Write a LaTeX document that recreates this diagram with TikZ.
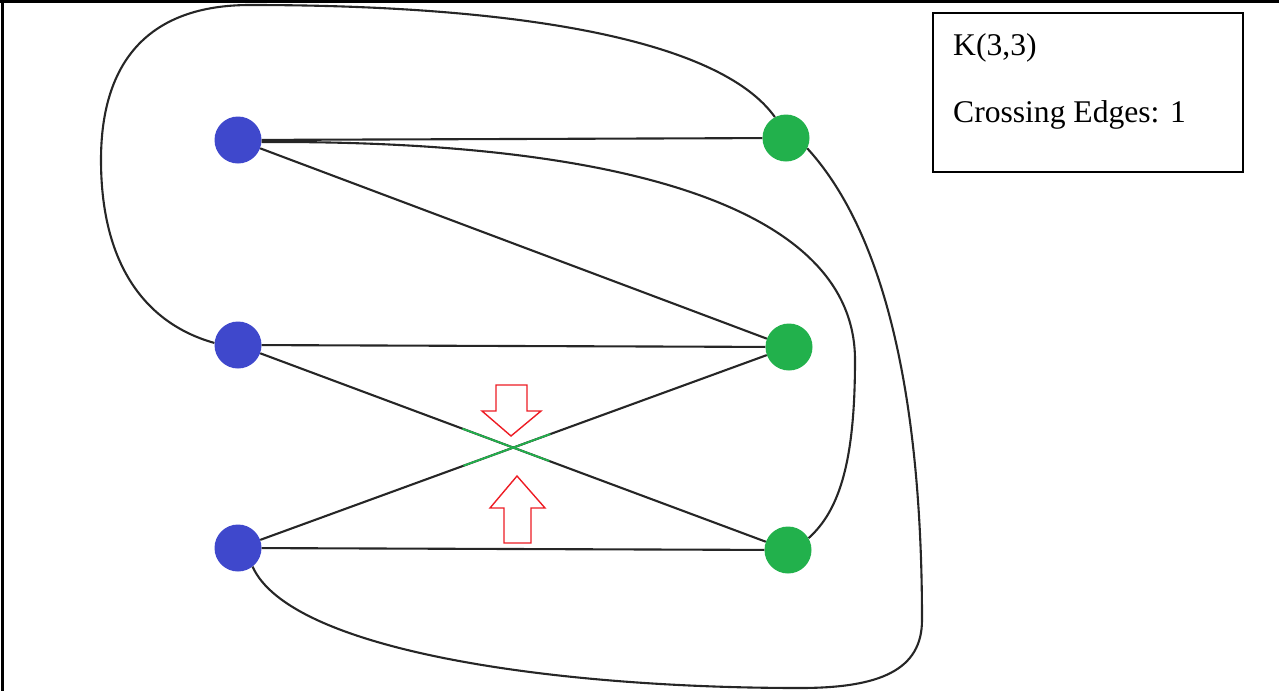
\documentclass[tikz,border=0pt]{standalone}
\usepackage{fontspec}
\setmainfont{Liberation Serif}
\usetikzlibrary{calc}
\definecolor{vblue}{RGB}{63,72,204}
\definecolor{vgreen}{RGB}{34,177,76}
\definecolor{vred}{RGB}{237,28,36}
\tikzset{
  bvert/.style={circle,fill=vblue,draw=none,minimum size=47pt,inner sep=0pt},
  gvert/.style={circle,fill=vgreen,draw=none,minimum size=47pt,inner sep=0pt},
  edge/.style={draw=black!85,line width=2.1pt},
  hilite/.style={draw=vgreen,line width=1.8pt},
  redarrow/.style={draw=vred,line width=1.4pt,line join=miter},
  frame/.style={draw=black,line width=3pt},
  infobox/.style={draw=black,line width=2.2pt},
  txt/.style={anchor=base west,inner sep=0pt,font=\fontsize{31.6}{38}\selectfont}
}
\begin{document}
\begin{tikzpicture}[x=1pt,y=-1pt]
\useasboundingbox (0,0) rectangle (1279,691);
% outer frame (top and left)
\draw[frame] (0,1.5) -- (1279,1.5);
\draw[frame] (2.5,0) -- (2.5,691);
% vertices
\node[bvert] (B1) at (238,140) {};
\node[bvert] (B2) at (238,345) {};
\node[bvert] (B3) at (238,548) {};
\node[gvert] (G1) at (786,138) {};
\node[gvert] (G2) at (789,347) {};
\node[gvert] (G3) at (788,550) {};
% straight edges
\draw[edge] (B1) -- (G1);
\draw[edge] (B1) -- (G2);
\draw[edge] (B2) -- (G2);
\draw[edge] (B2) -- (G3);
\draw[edge] (B3) -- (G2);
\draw[edge] (B3) -- (G3);
% curved edges
\draw[edge] (B2.175) .. controls (150,325) and (101,270) .. (101,160)
  .. controls (101,60) and (150,5) .. (250,5)
  .. controls (520,5) and (720,40) .. (G1.118);
\draw[edge] (B3.-52) .. controls (290,650) and (550,688) .. (800,688)
  .. controls (880,688) and (922,670) .. (922,620)
  .. controls (922,450) and (900,250) .. (G1.-26);
\draw[edge] (B1.-5) .. controls (600,140) and (855,200) .. (855,360)
  .. controls (855,460) and (840,510) .. (G3.30);
% highlighted crossing
\draw[hilite] ($(B2)!0.408!(G3)$) -- ($(B2)!0.566!(G3)$);
\draw[hilite] ($(B3)!0.409!(G2)$) -- ($(B3)!0.567!(G2)$);
% red arrows
\draw[redarrow] (496,385) -- (527,385) -- (527,411) -- (541,411) -- (511,436) -- (482,411) -- (496,411) -- cycle;
\draw[redarrow] (517,476) -- (545,508) -- (531,508) -- (531,543) -- (504,543) -- (504,508) -- (490,508) -- cycle;
% info box
\draw[infobox] (933,13) rectangle (1243,172);
\node[txt] (t1) at (953,55) {K(3,3)};
\node[txt] (t2) at (953,122) {Crossing Edges: 1};
\end{tikzpicture}
\end{document}
